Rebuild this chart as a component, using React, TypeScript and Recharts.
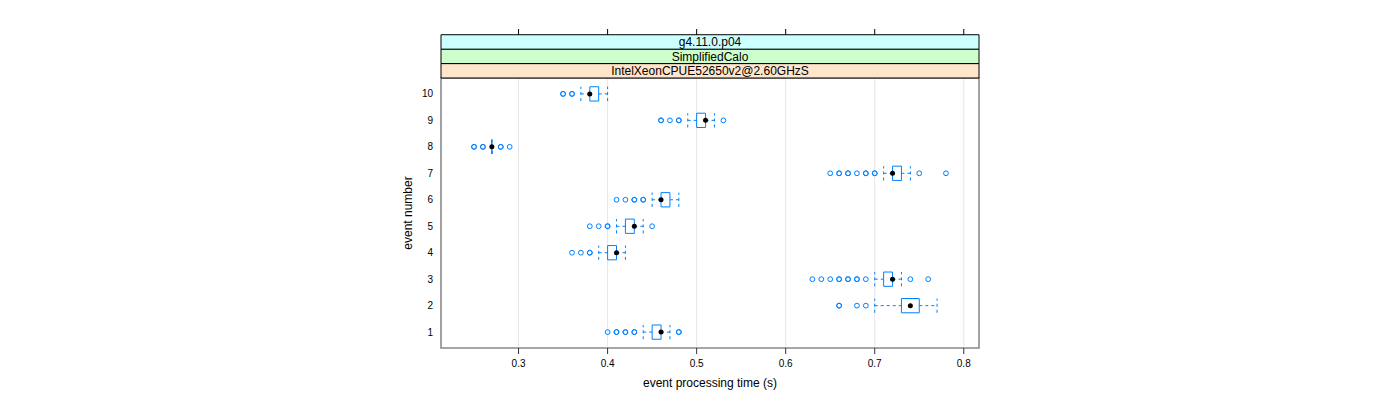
import {
    ScatterChart,
    Scatter,
    XAxis,
    YAxis,
    CartesianGrid,
    ReferenceArea,
    ReferenceLine,
} from "recharts";

// one box per event (1..10), times in seconds
const events = [1, 2, 3, 4, 5, 6, 7, 8, 9, 10];
const whiskerLow = [0.44, 0.70, 0.70, 0.39, 0.41, 0.45, 0.71, 0.27, 0.49, 0.37];
const q1 = [0.45, 0.73, 0.71, 0.40, 0.42, 0.46, 0.72, 0.27, 0.50, 0.38];
const medians = [0.46, 0.74, 0.72, 0.41, 0.43, 0.46, 0.72, 0.27, 0.51, 0.38];
const q3 = [0.46, 0.75, 0.72, 0.41, 0.43, 0.47, 0.73, 0.27, 0.51, 0.39];
const whiskerHigh = [0.47, 0.77, 0.73, 0.42, 0.44, 0.48, 0.74, 0.27, 0.52, 0.40];
// repeated values = several runs with the same time (drawn on top of each other)
const outliers = [
    [0.40, 0.41, 0.41, 0.42, 0.42, 0.43, 0.43, 0.48, 0.48],
    [0.66, 0.66, 0.68, 0.69],
    [0.63, 0.64, 0.65, 0.66, 0.66, 0.67, 0.67, 0.68, 0.68, 0.69, 0.74, 0.76],
    [0.36, 0.37, 0.38, 0.38],
    [0.38, 0.39, 0.40, 0.40, 0.45],
    [0.41, 0.42, 0.43, 0.43, 0.44, 0.44],
    [0.65, 0.66, 0.66, 0.67, 0.67, 0.68, 0.69, 0.69, 0.70, 0.70, 0.75, 0.78],
    [0.25, 0.25, 0.26, 0.26, 0.28, 0.28, 0.29],
    [0.46, 0.46, 0.47, 0.48, 0.48, 0.53],
    [0.35, 0.35, 0.36, 0.36],
];
const xTicks = [0.3, 0.4, 0.5, 0.6, 0.7, 0.8];
const strips = ["IntelXeonCPUE52650v2@2.60GHzS", "SimplifiedCalo", "g4.11.0.p04"];

const X_MIN = 0.2129;
const X_MAX = 0.8171;
const Y_MIN = 0.4;
const Y_MAX = 10.6;
const BOX_HALF = 0.27;
const STRIP_H = 0.545;
const BLUE = "#0080ff";
const stripColors = ["#ffe5cc", "#ccffcc", "#ccffff"];

const outlierPoints = outliers.flatMap((vals, i) => vals.map((t) => ({time: t, event: events[i]})));
const medianPoints = medians.map((t, i) => ({time: t, event: events[i]}));

const Ring = (p: any) => <circle cx={p.cx} cy={p.cy} r={2.4} fill="none" stroke={BLUE} strokeWidth={1}/>;
const Dot = (p: any) => <circle cx={p.cx} cy={p.cy} r={2.5} fill="#000"/>;

// ticks of the top axis sit above the strips
const TopTick = (p: any) => <line x1={p.x} x2={p.x} y1={p.y - 43} y2={p.y - 49} stroke="#000"/>;

export default function App() {
    const seg = (x1: number, y1: number, x2: number, y2: number, key: string, dashed = false) => (
        <ReferenceLine
            key={key}
            segment={[{x: x1, y: y1}, {x: x2, y: y2}]}
            stroke={BLUE}
            strokeWidth={1}
            strokeDasharray={dashed ? "3 3" : undefined}
            ifOverflow="visible"
        />
    );

    return (
        <div style={{fontFamily: "'Liberation Sans', Arial, sans-serif"}}>
            <ScatterChart width={1384} height={384} margin={{top: 21, right: 413, bottom: 0, left: 393}}>
                <CartesianGrid horizontal={false} stroke="#e6e6e6"/>
                <XAxis
                    type="number"
                    dataKey="time"
                    domain={[X_MIN, X_MAX]}
                    ticks={xTicks}
                    allowDataOverflow
                    axisLine={false}
                    tickLine={{stroke: "#333"}}
                    tickSize={6}
                    tickMargin={6}
                    tick={{fontSize: 10, fill: "#000"}}
                    tickFormatter={(v) => v.toFixed(1)}
                    height={44}
                    label={{value: "event processing time (s)", position: "insideBottom", offset: 5, fontSize: 12, fill: "#000"}}
                />
                <XAxis
                    xAxisId="top"
                    orientation="top"
                    type="number"
                    dataKey="time"
                    domain={[X_MIN, X_MAX]}
                    ticks={xTicks}
                    allowDataOverflow
                    axisLine={false}
                    tickLine={false}
                    tickSize={0}
                    tickMargin={0}
                    tick={<TopTick/>}
                    height={49}
                />
                <YAxis
                    type="number"
                    dataKey="event"
                    domain={[Y_MIN, Y_MAX]}
                    ticks={events}
                    allowDataOverflow
                    axisLine={false}
                    tickLine={false}
                    tick={{fontSize: 10, fill: "#000"}}
                    width={40}
                    label={{
                        value: "event number",
                        angle: -90,
                        position: "insideLeft",
                        offset: 7,
                        fontSize: 12,
                        fill: "#000",
                        style: {textAnchor: "middle"},
                    }}
                />

                {events.map((ev, i) => [
                    seg(whiskerLow[i], ev, q1[i], ev, `wl${i}`, true),
                    seg(q3[i], ev, whiskerHigh[i], ev, `wh${i}`, true),
                    seg(whiskerLow[i], ev - BOX_HALF, whiskerLow[i], ev + BOX_HALF, `cl${i}`, true),
                    seg(whiskerHigh[i], ev - BOX_HALF, whiskerHigh[i], ev + BOX_HALF, `ch${i}`, true),
                    seg(q1[i], ev - BOX_HALF, q1[i], ev + BOX_HALF, `bl${i}`),
                    seg(q3[i], ev - BOX_HALF, q3[i], ev + BOX_HALF, `br${i}`),
                    seg(q1[i], ev - BOX_HALF, q3[i], ev - BOX_HALF, `bb${i}`),
                    seg(q1[i], ev + BOX_HALF, q3[i], ev + BOX_HALF, `bt${i}`),
                ])}

                {/* panel border */}
                <ReferenceArea x1={X_MIN} x2={X_MAX} y1={Y_MIN} y2={Y_MAX} fill="none" stroke="#888"
                               strokeWidth={1.5} ifOverflow="visible"/>

                {strips.map((name, i) => (
                    <ReferenceArea
                        key={name}
                        x1={X_MIN}
                        x2={X_MAX}
                        y1={Y_MAX + i * STRIP_H}
                        y2={Y_MAX + (i + 1) * STRIP_H}
                        fill={stripColors[i]}
                        fillOpacity={1}
                        stroke="#000"
                        strokeWidth={1}
                        ifOverflow="visible"
                        label={{value: name, position: "center", fontSize: 12, fill: "#000"}}
                    />
                ))}

                <Scatter data={outlierPoints} shape={Ring} isAnimationActive={false}/>
                <Scatter data={medianPoints} shape={Dot} isAnimationActive={false}/>
            </ScatterChart>
        </div>
    );
}
